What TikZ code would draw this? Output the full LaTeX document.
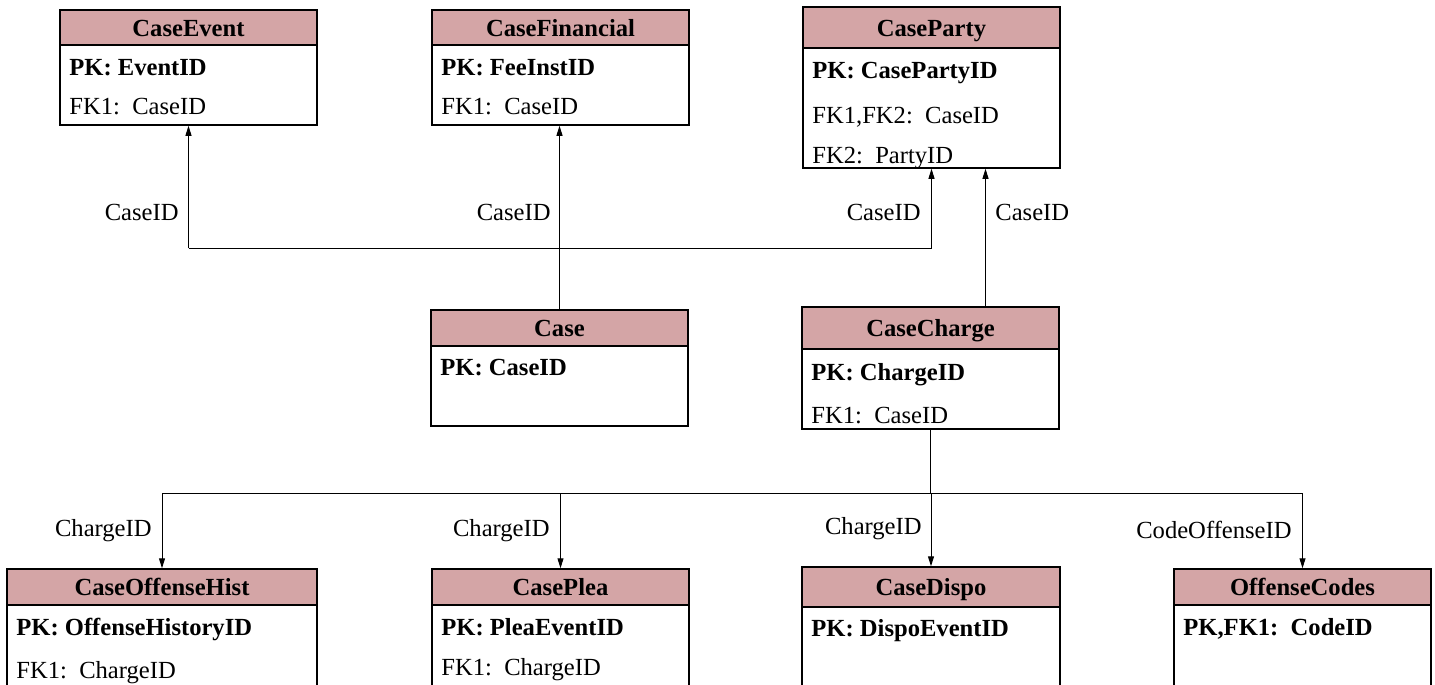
\documentclass[tikz,border=0pt]{standalone}
\usepackage{fontspec}
\setmainfont{Liberation Serif}
\usetikzlibrary{arrows.meta,fit,calc}
\definecolor{hdr}{RGB}{212,165,166}
\tikzset{
  ent/.style={draw=black, line width=0.75pt, inner sep=0pt},
  ttl/.style={font=\fontsize{12.3}{14}\selectfont\bfseries, inner sep=0pt, anchor=base},
  pk/.style={font=\fontsize{12.3}{14}\selectfont\bfseries, anchor=base west, inner sep=0pt},
  fk/.style={font=\fontsize{12.3}{14}\selectfont, anchor=base west, inner sep=0pt},
  lbl/.style={font=\fontsize{12.3}{14}\selectfont, inner sep=0pt},
  wire/.style={line width=0.5pt},
  conn/.style={line width=0.5pt, -{Triangle[width=3pt,length=5pt]}}
}
\newcommand{\entity}[7]{%
  \fill[hdr] (#2,#3) rectangle (#4,#6);
  \coordinate (#1-nw) at (#2,#3);
  \coordinate (#1-se) at (#4,#5);
  \node[ent, fit=(#1-nw)(#1-se)] (#1) {};
  \draw[line width=1.1pt] (#2,#6) -- (#4,#6);
  \node[ttl] (#1-t) at ({(#2+#4)/2},{(#3+#6)/2+8.5}) {#7};
}
\begin{document}
\begin{tikzpicture}[x=0.5pt,y=-0.5pt]
\useasboundingbox (0,0) rectangle (1435,685);
\fill[white] (0,0) rectangle (1435,685);
\clip (0,0) rectangle (1435,685);

% entities
\entity{ev}{60}{10}{317}{125}{45}{CaseEvent}
\node[pk] (ev-pk) at (69,75) {PK: EventID};
\node[fk] (ev-fk) at (69,114) {FK1:~\ CaseID};

\entity{fin}{432}{10}{689}{125}{45}{CaseFinancial}
\node[pk] (fin-pk) at (441,75) {PK: FeeInstID};
\node[fk] (fin-fk) at (441,114) {FK1:~\ CaseID};

\entity{party}{803}{7}{1060}{168}{48}{CaseParty}
\node[pk] (party-pk) at (812,78) {PK: CasePartyID};
\node[fk] (party-fk1) at (812,123) {FK1,FK2:~\ CaseID};
\node[fk] (party-fk2) at (812,163) {FK2:~\ PartyID};

\entity{case}{431}{310}{688}{426}{346}{Case}
\node[pk] (case-pk) at (440,375) {PK: CaseID};

\entity{charge}{802}{307}{1059}{429}{349}{CaseCharge}
\node[pk] (charge-pk) at (811,380) {PK: ChargeID};
\node[fk] (charge-fk) at (811,423) {FK1:~\ CaseID};

\entity{offh}{7}{569}{317}{720}{605}{CaseOffenseHist}
\node[pk] (offh-pk) at (16,635) {PK: OffenseHistoryID};
\node[fk] (offh-fk) at (16,678) {FK1:~\ ChargeID};

\entity{plea}{432}{569}{689}{720}{605}{CasePlea}
\node[pk] (plea-pk) at (441,635) {PK: PleaEventID};
\node[fk] (plea-fk) at (441,675) {FK1:~\ ChargeID};

\entity{dispo}{802}{567}{1060}{720}{607}{CaseDispo}
\node[pk] (dispo-pk) at (811,636) {PK: DispoEventID};

\entity{codes}{1174}{569}{1431}{720}{605}{OffenseCodes}
\node[pk] (codes-pk) at (1183,635) {PK,FK1:~\ CodeID};

% CaseID connectors
\coordinate (cbus) at (0,248);
\draw[wire] (ev.south |- cbus) -- (party.south |- cbus);
\draw[conn] (ev.south |- cbus) -- (ev.south);
\draw[conn] (party.south |- cbus) -- (party.south);
\draw[conn] (case.north) -- (case.north |- fin.south);
\coordinate (chup) at ($(charge.north)+(55,0)$);
\draw[conn] (chup) -- (chup |- party.south);

\node[lbl, anchor=base east] (l1) at (179,220) {CaseID};
\node[lbl, anchor=base east] (l2) at (551,220) {CaseID};
\node[lbl, anchor=base east] (l3) at (921,220) {CaseID};
\node[lbl, anchor=base west] (l4) at (995,220) {CaseID};

% ChargeID connectors
\coordinate (gbus) at (0,493);
\draw[wire] (charge.south) -- (charge.south |- gbus);
\draw[wire] (offh.north |- gbus) -- (codes.north |- gbus);
\draw[conn] (offh.north |- gbus) -- (offh.north);
\draw[conn] (plea.north |- gbus) -- (plea.north);
\draw[conn] (dispo.north |- gbus) -- (dispo.north);
\draw[conn] (codes.north |- gbus) -- (codes.north);

\node[lbl, anchor=base east] (l5) at (152,536) {ChargeID};
\node[lbl, anchor=base east] (l6) at (550,536) {ChargeID};
\node[lbl, anchor=base east] (l7) at (922,534) {ChargeID};
\node[lbl, anchor=base east] (l8) at (1292,538) {CodeOffenseID};
\end{tikzpicture}
\end{document}
